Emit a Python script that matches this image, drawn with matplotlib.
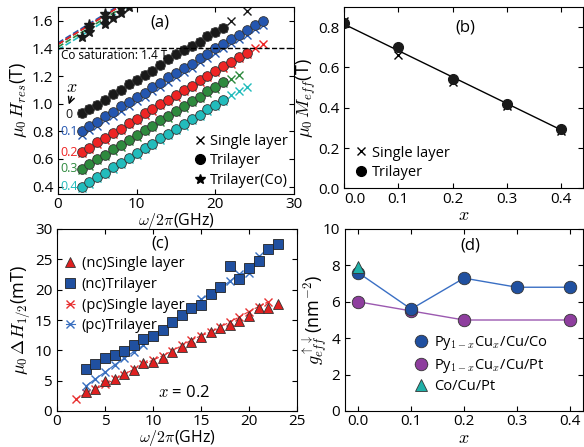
import numpy as np
import matplotlib
matplotlib.use("Agg")
import matplotlib.pyplot as plt

plt.rcParams['font.family'] = ['Open Sans', 'DejaVu Sans']
plt.rcParams['mathtext.fontset'] = 'cm'
plt.rcParams['xtick.direction'] = 'in'
plt.rcParams['ytick.direction'] = 'in'
plt.rcParams['xtick.top'] = True
plt.rcParams['ytick.right'] = True
plt.rcParams['xtick.major.pad'] = 2.5
plt.rcParams['font.size'] = 11

# ---- (a) resonance field vs frequency ----
x_labels = ['0', '0.1', '0.2', '0.3', '0.4']
colors_a = ['#1a1a1a', '#2456b0', '#ee2424', '#2e8a3e', '#22bcbc']

tri_f = [list(range(3, 22)), list(range(3, 27)), list(range(3, 25)),
         list(range(3, 22)), list(range(3, 22))]
tri_H = [
    [0.93, 0.96, 0.99, 1.03, 1.07, 1.10, 1.14, 1.17, 1.21, 1.24, 1.28, 1.32, 1.36, 1.39, 1.42, 1.45, 1.49, 1.52, 1.55],
    [0.80, 0.84, 0.87, 0.91, 0.94, 0.98, 1.01, 1.05, 1.08, 1.12, 1.15, 1.19, 1.22, 1.26, 1.29, 1.33, 1.36, 1.40, 1.43, 1.47, 1.50, 1.53, 1.57, 1.60],
    [0.65, 0.68, 0.72, 0.75, 0.79, 0.82, 0.86, 0.89, 0.93, 0.96, 1.00, 1.03, 1.06, 1.10, 1.13, 1.17, 1.20, 1.24, 1.27, 1.30, 1.34, 1.37],
    [0.53, 0.56, 0.60, 0.63, 0.67, 0.70, 0.74, 0.77, 0.81, 0.84, 0.88, 0.91, 0.95, 0.98, 1.02, 1.05, 1.09, 1.12, 1.16],
    [0.40, 0.43, 0.47, 0.50, 0.54, 0.57, 0.61, 0.64, 0.68, 0.71, 0.75, 0.78, 0.82, 0.85, 0.89, 0.92, 0.96, 0.99, 1.03],
]
single_f = [list(range(3, 22)) + [22, 24], list(range(3, 27)), list(range(3, 27)),
            list(range(3, 24)), list(range(3, 25))]
single_H = [
    [0.93, 0.96, 0.99, 1.03, 1.07, 1.10, 1.14, 1.17, 1.21, 1.24, 1.28, 1.32, 1.36, 1.39, 1.42, 1.45, 1.49, 1.52, 1.55, 1.60, 1.67],
    [0.77, 0.81, 0.84, 0.88, 0.91, 0.95, 0.98, 1.02, 1.05, 1.09, 1.12, 1.16, 1.19, 1.23, 1.26, 1.30, 1.33, 1.37, 1.40, 1.44, 1.47, 1.50, 1.54, 1.57],
    [0.64, 0.67, 0.71, 0.74, 0.78, 0.81, 0.85, 0.88, 0.92, 0.95, 0.99, 1.02, 1.05, 1.09, 1.12, 1.16, 1.19, 1.23, 1.26, 1.29, 1.33, 1.36, 1.40, 1.43],
    [0.52, 0.55, 0.59, 0.62, 0.66, 0.69, 0.73, 0.76, 0.80, 0.83, 0.87, 0.90, 0.94, 0.97, 1.01, 1.04, 1.08, 1.11, 1.15, 1.18, 1.21],
    [0.39, 0.42, 0.46, 0.49, 0.53, 0.56, 0.60, 0.63, 0.67, 0.70, 0.74, 0.77, 0.81, 0.84, 0.88, 0.91, 0.95, 0.98, 1.02, 1.06, 1.09, 1.12],
]
co_fit_f = [0, 10]
co_fit_H = [[1.43, 1.78], [1.44, 1.79], [1.43, 1.78], [1.41, 1.76], [1.39, 1.74]]
co_f = [3, 4, 4, 4, 6, 6, 6, 7, 8, 8, 9]
co_H = [1.48, 1.52, 1.55, 1.57, 1.58, 1.62, 1.65, 1.62, 1.66, 1.69, 1.70]

# ---- (b) effective magnetisation vs x ----
xb = [0.0, 0.1, 0.2, 0.3, 0.4]
meff_tri = [0.82, 0.70, 0.545, 0.42, 0.295]
meff_single = [0.83, 0.66, 0.53, 0.41, 0.285]
fit_b_x = [0.0, 0.4]
fit_b_y = [0.815, 0.29]
b_ticklabels = ['0.0', '0.1', '0.2', '0.3', '0.4']

# ---- (c) linewidth vs frequency, x = 0.2 ----
nc_single_f = list(range(3, 24))
nc_single = [3.1, 3.7, 4.9, 5.2, 6.1, 6.8, 7.9, 8.1, 8.8, 9.7, 10.6, 11.4, 12.2, 13.0, 13.7, 14.2, 14.9, 15.7, 17.0, 17.0, 17.7]
nc_tri_f = list(range(3, 24))
nc_tri = [6.9, 7.75, 8.7, 9.2, 9.9, 10.85, 11.9, 12.4, 13.4, 14.6, 15.8, 17.0, 17.5, 19.3, 20.5, 23.9, 21.8, 23.5, 24.8, 26.7, 27.5]
pc_single_f = list(range(2, 23))
pc_single = [2.0, 2.9, 3.6, 4.4, 5.2, 6.0, 6.9, 7.7, 8.4, 9.1, 9.9, 10.8, 11.7, 12.4, 13.0, 13.8, 14.7, 15.5, 16.4, 17.2, 18.0]
pc_tri_f = list(range(3, 22))
pc_tri = [4.1, 5.3, 6.4, 7.6, 8.7, 9.8, 10.85, 12.2, 13.3, 14.5, 15.7, 16.9, 18.4, 19.3, 20.2, 21.4, 22.6, 22.8, 25.6]

# ---- (d) spin mixing conductance ----
xd_co = [0.0, 0.1, 0.2, 0.3, 0.4]
g_co = [7.6, 5.6, 7.3, 6.8, 6.8]
xd_pt = [0.0, 0.1, 0.2, 0.4]
g_pt = [6.0, 5.5, 5.0, 5.0]
xd_copt = [0.0]
g_copt = [7.9]

fig = plt.figure(figsize=(5.84, 4.47), dpi=100)
W, H = 584.0, 447.0
def box(l, t, r, b):
    return [l / W, 1 - b / H, (r - l) / W, (b - t) / H]

ax_a = fig.add_axes(box(58, 7, 294, 193.5))
ax_b = fig.add_axes(box(344, 7, 583, 188.5))
ax_c = fig.add_axes(box(57, 229, 297, 411))
ax_d = fig.add_axes(box(345, 229, 583, 411))

# (a)
for i in range(5):
    ax_a.plot(co_fit_f, co_fit_H[i], '--', color=colors_a[i], lw=1.2)
for i in range(5):
    ax_a.plot(single_f[i], single_H[i], 'x', color=colors_a[i], ms=6, mew=1.0)
    ax_a.plot(tri_f[i], tri_H[i], 'o', color=colors_a[i], mec='#333333', mew=0.6, ms=7)
ax_a.plot(co_f, co_H, '*', color='#1a1a1a', ms=8)
ax_a.axhline(1.4, color='k', ls='--', lw=1)
ax_a.text(0.4, 1.35, 'Co saturation: 1.4 T', fontsize=8.5, va='center', zorder=5)
ax_a.text(13, 1.585, '(a)', fontsize=12, ha='center', va='center')
lab_y = [0.92, 0.80, 0.65, 0.53, 0.40]
for i in range(5):
    ax_a.text(1.4, lab_y[i], x_labels[i], color=colors_a[i], fontsize=9, ha='center', va='center')
ax_a.text(1.7, 1.12, '$x$', fontsize=13, ha='center', va='center')
ax_a.annotate('', xy=(1.25, 0.975), xytext=(1.85, 1.07),
              arrowprops=dict(arrowstyle='->', color='k', lw=1))
ax_a.plot([], [], 'x', color='k', ms=6, label='Single layer')
ax_a.plot([], [], 'o', color='k', ms=7, label='Trilayer')
ax_a.plot([], [], '*', color='k', ms=7, label='Trilayer(Co)')
ax_a.legend(loc='lower right', frameon=False, handlelength=0.6, handletextpad=0.4,
            borderaxespad=0.0, labelspacing=0.3, fontsize=10.5)
ax_a.set_xlim(0, 30)
ax_a.set_ylim(0.35, 1.7)
ax_a.set_yticks([0.4, 0.6, 0.8, 1.0, 1.2, 1.4, 1.6])
ax_a.set_xlabel(r'$\omega/2\pi$(GHz)', fontsize=11.5, labelpad=-1)
ax_a.set_ylabel(r'$\mu_0\, H_{res}$(T)', fontsize=13, labelpad=2)

# (b)
ax_b.plot(fit_b_x, fit_b_y, '-', color='k', lw=1)
ax_b.plot(xb, meff_single, 'x', color='k', ms=6)
ax_b.plot(xb, meff_tri, 'o', color='#1a1a1a', ms=7)
ax_b.text(0.223, 0.8, '(b)', fontsize=12, ha='center', va='center')
ax_b.plot([], [], 'x', color='k', ms=6, label='Single layer')
ax_b.plot([], [], 'o', color='k', ms=7, label='Trilayer')
ax_b.legend(loc='lower left', bbox_to_anchor=(0.03, 0.015), frameon=False, handlelength=0.6,
            handletextpad=0.4, labelspacing=0.3, fontsize=10.5, borderaxespad=0.0)
ax_b.set_xlim(0, 0.44)
ax_b.set_ylim(0, 0.9)
# first x tick label sits right of its tick (left-aligned) so it clears the y "0.0"
ax_b.set_xticks(xb, [''] + b_ticklabels[1:])
ax_b.text(xb[0], -0.02, b_ticklabels[0], transform=ax_b.get_xaxis_transform(),
          ha='left', va='top', fontsize=11)
ax_b.set_yticks([0.0, 0.2, 0.4, 0.6, 0.8])
ax_b.set_xlabel('$x$', fontsize=13, labelpad=-1)
ax_b.set_ylabel(r'$\mu_0\, M_{eff}$(T)', fontsize=13, labelpad=0)

# (c)
ax_c.plot(pc_single_f, pc_single, 'x--', color='#e83030', ms=6, lw=0.8, label='(pc)Single layer')
ax_c.plot(pc_tri_f, pc_tri, 'x-', color='#3a70c0', ms=6, lw=0.8, label='(pc)Trilayer')
ax_c.plot(nc_single_f, nc_single, '^', color='#e02020', mec='#333333', mew=0.6, ms=7,
          label='(nc)Single layer')
ax_c.plot(nc_tri_f, nc_tri, 's', color='#2050a0', mec='#222222', mew=0.6, ms=7,
          label='(nc)Trilayer')
h, l = ax_c.get_legend_handles_labels()
order = [2, 3, 0, 1]
ax_c.legend([h[k] for k in order], [l[k] for k in order], loc='upper left',
            bbox_to_anchor=(0.0, 0.9), frameon=False, handlelength=0.6, handletextpad=0.5,
            labelspacing=0.4, fontsize=10.5, borderaxespad=0.2)
ax_c.text(10.8, 27.6, '(c)', fontsize=12, ha='center', va='center')
ax_c.text(13.2, 2.9, '$x$ = 0.2', fontsize=12, ha='center', va='center')
ax_c.set_xlim(0, 25)
ax_c.set_ylim(0, 30)
ax_c.set_xticks([0, 5, 10, 15, 20, 25])
ax_c.set_yticks([0, 5, 10, 15, 20, 25, 30])
ax_c.set_xlabel(r'$\omega/2\pi$(GHz)', fontsize=11.5, labelpad=-1)
ax_c.set_ylabel(r'$\mu_0\,\Delta H_{1/2}$(mT)', fontsize=13, labelpad=2)

# (d)
ax_d.plot(xd_pt, g_pt, '-o', color='#9b59b0', mfc='#8e3e9e', mec='#333333', mew=0.6, ms=9,
          lw=1, label=r'Py$_{1-x}$Cu$_x$/Cu/Pt')
ax_d.plot(xd_co, g_co, '-o', color='#3a6fc4', mfc='#2050a0', mec='#333333', mew=0.6, ms=9,
          lw=1, label=r'Py$_{1-x}$Cu$_x$/Cu/Co')
ax_d.plot(xd_copt, g_copt, '^', color='#20b0a8', mec='#333333', mew=0.6, ms=9, label='Co/Cu/Pt')
h, l = ax_d.get_legend_handles_labels()
order = [1, 0, 2]
ax_d.legend([h[k] for k in order], [l[k] for k in order], loc='lower left',
            bbox_to_anchor=(0.27, 0.06), frameon=False, handlelength=0.8, handletextpad=0.5,
            labelspacing=0.3, fontsize=10.5, borderaxespad=0.0)
ax_d.text(0.211, 9.1, '(d)', fontsize=12, ha='center', va='center')
ax_d.set_xlim(-0.025, 0.425)
ax_d.set_ylim(0, 10)
ax_d.set_xticks([0.0, 0.1, 0.2, 0.3, 0.4])
ax_d.set_yticks([0, 2, 4, 6, 8, 10])
ax_d.set_xlabel('$x$', fontsize=13, labelpad=0)
ax_d.set_ylabel(r'$g_{eff}^{\uparrow\downarrow}$(nm$^{-2}$)', fontsize=13, labelpad=-5)

fig.savefig('out.png', dpi=100)
